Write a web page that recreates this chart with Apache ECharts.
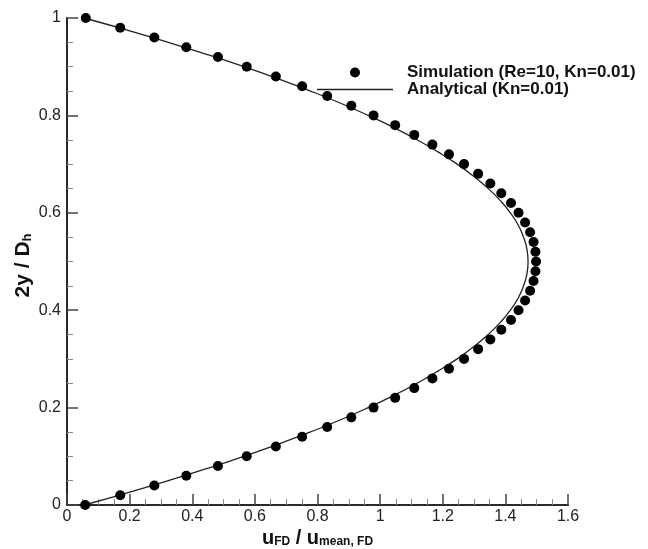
<!DOCTYPE html>
<html>
<head>
<meta charset="utf-8">
<script src="https://cdn.jsdelivr.net/npm/echarts@6/dist/echarts.min.js"></script>
<style>html,body{margin:0;padding:0;background:#fff;}#c{width:648px;height:549px;}</style>
</head>
<body>
<div id="c"></div>
<script>
// Simulation points (Re=10, Kn=0.01)
var simY = [0,0.02,0.04,0.06,0.08,0.10,0.12,0.14,0.16,0.18,0.20,0.22,0.24,0.26,0.28,0.30,0.32,0.34,0.36,0.38,0.40,0.42,0.44,0.46,0.48,0.50,
            0.52,0.54,0.56,0.58,0.60,0.62,0.64,0.66,0.68,0.70,0.72,0.74,0.76,0.78,0.80,0.82,0.84,0.86,0.88,0.90,0.92,0.94,0.96,0.98,1.00];
var simX = [0.058,0.170,0.279,0.381,0.482,0.574,0.667,0.751,0.831,0.908,0.979,1.048,1.109,1.167,1.220,1.268,1.313,1.352,1.387,1.418,1.442,1.463,1.479,1.490,1.496,1.498,
            1.496,1.490,1.479,1.463,1.442,1.418,1.387,1.352,1.313,1.268,1.220,1.167,1.109,1.048,0.979,0.908,0.831,0.751,0.667,0.574,0.482,0.381,0.279,0.170,0.060];
// Analytical curve (Kn=0.01)
var anaY = [0,0.025,0.05,0.075,0.10,0.125,0.15,0.175,0.20,0.225,0.25,0.275,0.30,0.325,0.35,0.375,0.40,0.425,0.45,0.475,0.50,
            0.525,0.55,0.575,0.60,0.625,0.65,0.675,0.70,0.725,0.75,0.775,0.80,0.825,0.85,0.875,0.90,0.925,0.95,0.975,1.00];
var anaX = [0.055,0.193,0.324,0.448,0.565,0.675,0.778,0.874,0.962,1.044,1.118,1.185,1.246,1.299,1.345,1.384,1.416,1.441,1.458,1.469,1.4725,
            1.469,1.458,1.441,1.416,1.384,1.345,1.299,1.246,1.185,1.118,1.044,0.962,0.874,0.778,0.675,0.565,0.448,0.324,0.193,0.055];
var seriesNames = ['Simulation (Re=10, Kn=0.01)', 'Analytical (Kn=0.01)'];

var FONT = "'Liberation Sans', Arial, Helvetica, sans-serif";
var simData = simX.map(function (x, i) { return [x, simY[i]]; });
var anaData = anaX.map(function (x, i) { return [x, anaY[i]]; });

function axisCommon() {
  return {
    type: 'value',
    axisLine: { show: true, onZero: false, lineStyle: { color: '#2a2a2a', width: 2 } },
    axisTick: { show: true, inside: true, length: 11, lineStyle: { color: '#444', width: 1.5 } },
    minorTick: { show: true, splitNumber: 4, length: 6, lineStyle: { color: '#888', width: 1 } },
    splitLine: { show: false },
    minorSplitLine: { show: false },
    axisLabel: { fontFamily: FONT, fontSize: 16, color: '#222' }
  };
}
var xAx = axisCommon();
xAx.min = 0; xAx.max = 1.6; xAx.interval = 0.2;
xAx.axisLabel.margin = 4;
xAx.name = '{u|u}{s|FD}{u| / u}{s|mean, FD}';
xAx.nameLocation = 'middle';
xAx.nameGap = 21;
xAx.nameMoveOverlap = false;
xAx.nameTextStyle = {
  rich: {
    u: { fontFamily: FONT, fontSize: 20, fontWeight: 'bold', color: '#111', lineHeight: 22, verticalAlign: 'bottom' },
    s: { fontFamily: FONT, fontSize: 12, fontWeight: 'bold', color: '#111', lineHeight: 12, verticalAlign: 'bottom' }
  }
};
var yAx = axisCommon();
yAx.min = 0; yAx.max = 1; yAx.interval = 0.2;
yAx.axisLabel.margin = 6;
yAx.name = '{u|2y / D}{s|h}';
yAx.nameLocation = 'middle';
yAx.nameGap = 33;
yAx.nameMoveOverlap = false;
yAx.nameTextStyle = {
  padding: [0, 8, 0, 0],
  rich: {
    u: { fontFamily: FONT, fontSize: 21, fontWeight: 'bold', color: '#111', lineHeight: 24, verticalAlign: 'bottom' },
    s: { fontFamily: FONT, fontSize: 13, fontWeight: 'bold', color: '#111', lineHeight: 13, verticalAlign: 'bottom' }
  }
};

var chart = echarts.init(document.getElementById('c'), null, { renderer: 'canvas' });
chart.setOption({
  animation: false,
  backgroundColor: '#fff',
  grid: { left: 67, right: 80, top: 18, bottom: 44, containLabel: false, outerBoundsMode: 'none' },
  xAxis: xAx,
  yAxis: yAx,
  legend: {
    orient: 'vertical',
    left: 312, top: 59,
    itemWidth: 76, itemHeight: 10, itemGap: 0,
    data: [
      { name: seriesNames[0], icon: 'circle' },
      { name: seriesNames[1], icon: 'path://M0,0H76V1.3H0Z' }
    ],
    textStyle: { fontFamily: FONT, fontSize: 17, fontWeight: 'bold', color: '#111', padding: [0, 0, 0, 9] }
  },
  series: [
    {
      name: seriesNames[1], type: 'line', data: anaData, smooth: true,
      symbol: 'none', showSymbol: false,
      lineStyle: { color: '#222', width: 1.3 }, itemStyle: { color: '#222' }, z: 2
    },
    {
      name: seriesNames[0], type: 'scatter', data: simData,
      symbol: 'circle', symbolSize: 10,
      itemStyle: { color: '#000', opacity: 1 }, z: 3
    }
  ]
});
</script>
</body>
</html>
